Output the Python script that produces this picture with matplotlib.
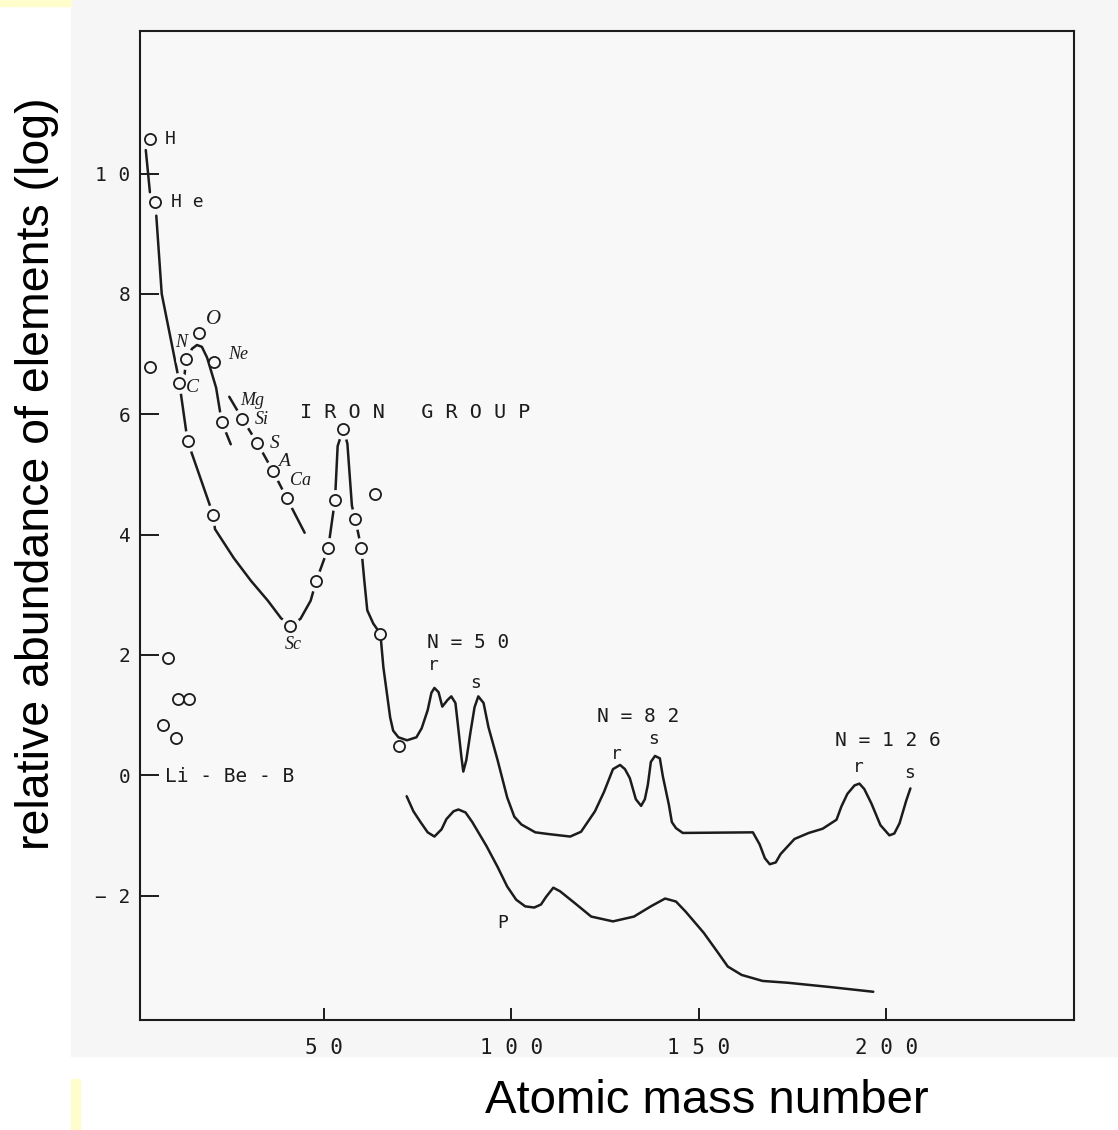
import matplotlib.pyplot as plt
from matplotlib.patches import Rectangle
from matplotlib.ticker import FuncFormatter

# main abundance curve: He down to Sc, up to the iron peak, then the N=50/82/126 peaks
main_mass = [5.35, 6.8, 10.9, 11.5, 13.7, 20.5, 21.0, 26.0, 30.6, 35.1, 38.6, 41.1,
             43.8, 46.5, 48.0, 51.2, 53.0, 53.7, 55.2, 56.3, 57.5, 58.4, 60.0, 60.8,
             61.6, 63.2, 65.1, 65.9, 67.7, 68.5, 69.9, 72.2, 74.7, 76.1, 77.7, 78.7,
             79.5, 80.6, 81.6, 83.0, 84.0, 85.1, 85.7, 86.7, 87.2, 88.0, 89.1, 90.2,
             91.2, 92.6, 93.9, 96.3, 98.9, 100.8, 102.7, 106.4, 110.1, 115.7, 118.6,
             122.3, 124.7, 127.1, 129.0, 130.3, 131.6, 133.2, 134.6, 135.6, 136.4,
             137.2, 138.3, 139.6, 140.4, 142.0, 142.8, 143.9, 145.7, 164.4, 166.2,
             167.6, 168.9, 170.5, 171.8, 175.5, 179.3, 183.0, 186.7, 188.0, 189.6,
             191.5, 192.8, 194.1, 196.0, 198.4, 200.8, 202.1, 203.5, 205.3, 206.4]
main_abund = [9.30, 8.0, 6.72, 6.52, 5.55, 4.33, 4.09, 3.61, 3.23, 2.90, 2.61, 2.48,
              2.60, 2.90, 3.23, 3.78, 4.58, 5.47, 5.76, 5.51, 4.48, 4.25, 3.78, 3.24,
              2.74, 2.52, 2.35, 1.79, 0.96, 0.74, 0.63, 0.58, 0.63, 0.78, 1.08, 1.37,
              1.45, 1.38, 1.14, 1.25, 1.31, 1.20, 0.87, 0.30, 0.06, 0.25, 0.71, 1.13,
              1.31, 1.20, 0.80, 0.26, -0.37, -0.69, -0.82, -0.95, -0.98, -1.02, -0.94,
              -0.60, -0.28, 0.10, 0.17, 0.10, -0.05, -0.40, -0.51, -0.40, -0.16,
              0.22, 0.32, 0.28, -0.02, -0.49, -0.78, -0.88, -0.96, -0.95, -1.15,
              -1.38, -1.48, -1.45, -1.31, -1.06, -0.96, -0.89, -0.74, -0.52, -0.31,
              -0.17, -0.14, -0.23, -0.47, -0.83, -1.00, -0.97, -0.80, -0.42, -0.22]

# p-process curve
p_mass = [72.1, 73.9, 75.8, 77.7, 79.5, 81.4, 82.7, 84.6, 85.9, 87.8, 89.6, 93.4, 96.3,
          98.9, 101.3, 103.7, 106.1, 107.9, 109.3, 111.2, 113.0, 116.8, 121.3, 127.1,
          132.7, 137.2, 141.0, 143.9, 146.5, 151.3, 155.1, 157.7, 161.4, 167.0, 173.7,
          184.8, 196.5]
p_abund = [-0.35, -0.60, -0.78, -0.95, -1.02, -0.90, -0.73, -0.60, -0.57, -0.62, -0.78,
           -1.18, -1.52, -1.85, -2.07, -2.18, -2.20, -2.15, -2.02, -1.87, -1.93, -2.12,
           -2.35, -2.43, -2.35, -2.18, -2.05, -2.10, -2.27, -2.62, -2.95, -3.18, -3.32,
           -3.42, -3.45, -3.52, -3.60]

# H to He stroke
hhe_mass = [2.55, 3.65]
hhe_abund = [10.39, 9.69]

# C-N-O-Ne hump running down to Mg
cno_mass = [12.8, 13.3, 14.9, 16.2, 17.5, 18.9, 21.3, 22.8, 25.2]
cno_abund = [6.60, 6.92, 7.09, 7.15, 7.12, 6.94, 6.44, 5.87, 5.50]

# Si-S-A-Ca line
alpha_mass = [24.8, 28.3, 32.3, 36.4, 40.1, 44.9]
alpha_abund = [6.29, 5.92, 5.52, 5.06, 4.61, 4.03]

# measured points (open circles); on_line marks the ones the curves stop short of
circle_mass = [3.6, 5.05, 3.7, 11.5, 13.3, 16.7, 20.7, 13.7, 20.5, 22.8, 28.3, 32.3,
               36.4, 40.1, 41.1, 48.0, 51.2, 53.0, 55.2, 58.4, 60.0, 63.6, 65.1, 70.1,
               8.5, 11.1, 14.0, 7.1, 10.6]
circle_abund = [10.58, 9.52, 6.78, 6.52, 6.92, 7.35, 6.87, 5.55, 4.33, 5.87, 5.92, 5.52,
                5.06, 4.61, 2.48, 3.23, 3.78, 4.58, 5.76, 4.25, 3.78, 4.68, 2.35, 0.48,
                1.94, 1.27, 1.27, 0.84, 0.62]
circle_on_line = [False, False, False, True, True, False, False, True, True, True, True,
                  True, True, True, True, True, True, True, True, True, True, False,
                  False, False, False, False, False, False, False]

x_ticks = [50, 100, 150, 200]
y_ticks = [-2, 0, 2, 4, 6, 8, 10]

ink = "#1c1c1c"
paper = "#f8f8f8"
mono = "DejaVu Sans Mono"
hand = "Liberation Serif"

fig = plt.figure(figsize=(11.18, 11.30), dpi=100)
fig.add_artist(Rectangle((71 / 1118, 1 - 1056 / 1130), 1 - 71 / 1118, 1056 / 1130,
                         transform=fig.transFigure, color="#f6f6f6", zorder=-2))
fig.add_artist(Rectangle((0, 1 - 6 / 1130), 71 / 1118, 6 / 1130,
                         transform=fig.transFigure, color="#fffdcc", zorder=-1))
fig.add_artist(Rectangle((71 / 1118, 0), 9 / 1118, 51 / 1130,
                         transform=fig.transFigure, color="#fffdcc", zorder=-1))

ax = fig.add_axes([0.1252, 0.0973, 0.8354, 0.8753])
ax.set_facecolor(paper)
ax.set_xlim(1, 250)
ax.set_ylim(-4.07, 12.37)

for s in ax.spines.values():
    s.set_linewidth(1.5)
    s.set_color(ink)

lw = 1.8
for xs, ys in [(main_mass, main_abund), (p_mass, p_abund), (hhe_mass, hhe_abund),
               (cno_mass, cno_abund), (alpha_mass, alpha_abund)]:
    ax.plot(xs, ys, color=ink, lw=lw, zorder=2, solid_joinstyle="round",
            solid_capstyle="round")

# blank out the line around circles sitting on a curve
gap_x = [m for m, g in zip(circle_mass, circle_on_line) if g]
gap_y = [a for a, g in zip(circle_abund, circle_on_line) if g]
ax.plot(gap_x, gap_y, ls="none", marker="o", ms=15, mfc=paper, mec="none", zorder=3)
ax.plot(circle_mass, circle_abund, ls="none", marker="o", ms=8, mfc=paper,
        mec=ink, mew=1.3, zorder=4)

# ticks
def spaced(v, pos):
    return " ".join(str(int(round(v)))).replace("-", "\u2212")

ax.set_xticks(x_ticks)
ax.set_yticks(y_ticks)
ax.xaxis.set_major_formatter(FuncFormatter(spaced))
ax.yaxis.set_major_formatter(FuncFormatter(spaced))
ax.tick_params(axis="x", direction="in", length=9, width=1.4, color=ink, pad=13,
               labelsize=15, labelcolor=ink)
ax.tick_params(axis="y", direction="in", length=14, width=1.4, color=ink, pad=7,
               labelsize=14, labelcolor=ink)
for lab in ax.get_xticklabels() + ax.get_yticklabels():
    lab.set_family(mono)

# printed labels
pt = dict(color=ink, family=mono, zorder=5, va="center")
ax.text(7.6, 10.58, "H", fontsize=13, ha="left", **pt)
ax.text(9.3, 9.53, "H e", fontsize=13, ha="left", **pt)
ax.text(43.6, 6.03, "I R O N   G R O U P", fontsize=14.5, ha="left", **pt)
ax.text(88.4, 2.2, "N = 5 0", fontsize=14, ha="center", **pt)
ax.text(79.1, 1.83, "r", fontsize=13, ha="center", **pt)
ax.text(90.5, 1.53, "s", fontsize=13, ha="center", **pt)
ax.text(133.8, 0.97, "N = 8 2", fontsize=14, ha="center", **pt)
ax.text(128.0, 0.35, "r", fontsize=13, ha="center", **pt)
ax.text(138.0, 0.60, "s", fontsize=13, ha="center", **pt)
ax.text(200.4, 0.58, "N = 1 2 6", fontsize=14, ha="center", **pt)
ax.text(192.4, 0.13, "r", fontsize=13, ha="center", **pt)
ax.text(206.2, 0.04, "s", fontsize=13, ha="center", **pt)
ax.text(97.6, -2.46, "P", fontsize=13, ha="center", **pt)
ax.text(7.6, -0.03, "Li - Be - B", fontsize=14, ha="left", **pt)

# handwritten element names
hw = dict(color=ink, family=hand, style="italic", zorder=5, va="center", ha="center")
ax.text(11.9, 7.19, "N", fontsize=13, **hw)
ax.text(20.7, 7.57, "O", fontsize=15, **hw)
ax.text(27.2, 7.00, "Ne", fontsize=13, **hw)
ax.text(15.0, 6.44, "C", fontsize=14, **hw)
ax.text(30.8, 6.22, "Mg", fontsize=13, **hw)
ax.text(33.6, 5.92, "Si", fontsize=13, **hw)
ax.text(36.9, 5.52, "S", fontsize=14, **hw)
ax.text(39.5, 5.22, "A", fontsize=14, **hw)
ax.text(43.8, 4.89, "Ca", fontsize=13, **hw)
ax.text(41.8, 2.18, "Sc", fontsize=13, **hw)

fig.text(37 / 1118, 1 - 474 / 1130, "relative abundance of elements (log)",
         rotation=90, ha="center", va="center", fontsize=33.5,
         family="Liberation Sans", color="black")
fig.text(707 / 1118, 1 - 1113 / 1130, "Atomic mass number", ha="center",
         va="baseline", fontsize=34, family="Liberation Sans", color="black")

fig.savefig("out.png", dpi=100)
